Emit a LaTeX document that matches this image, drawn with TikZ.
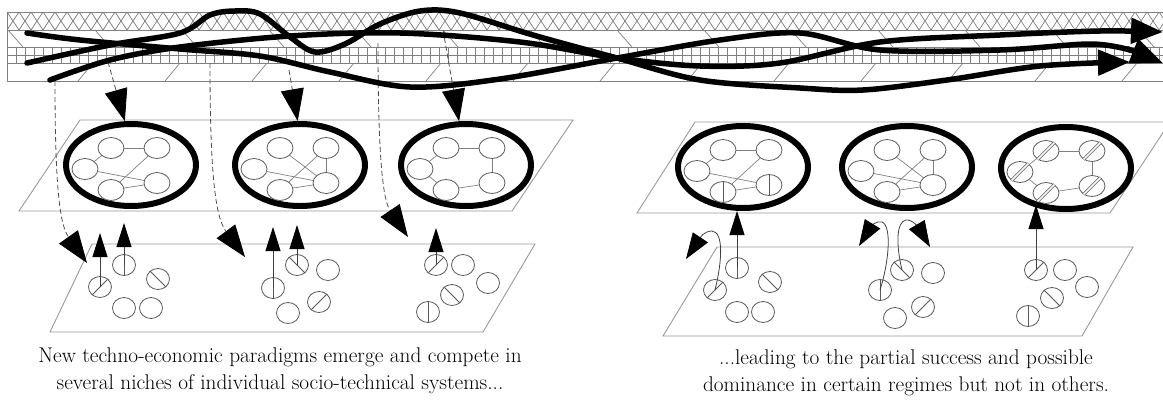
\documentclass[tikz,border=0pt]{standalone}
\usetikzlibrary{arrows.meta,shapes.geometric}
\begin{document}
\begin{tikzpicture}[x=1pt,y=-1pt,
  bandline/.style={draw=black!50, line width=0.7},
  plane/.style={draw=black!40, line width=0.9},
  traj/.style={line width=5.5, line cap=round, line join=round},
  trajtip/.style={-{Triangle[length=32pt,width=25pt]}},
  regime/.style={ellipse, draw, line width=6, minimum width=130pt, minimum height=82pt, inner sep=0pt},
  cell/.style={ellipse, draw=black!65, line width=0.8, fill=white, minimum width=26pt, minimum height=21pt, inner sep=0pt},
  seed/.style={ellipse, draw=black!65, line width=0.8, fill=white, minimum width=23pt, minimum height=21pt, inner sep=0pt},
  link/.style={draw=black!50, line width=0.7},
  scratch/.style={draw=black!65, line width=0.8},
  feed/.style={draw=black!70, line width=0.8, dash pattern=on 5pt off 3pt},
  bigtip/.style={-{Triangle[length=32pt,width=23pt,color=black]}},
  rise/.style={draw=black!75, line width=0.8, -{Triangle[length=24pt,width=15pt,color=black]}},
  hook/.style={draw=black!75, line width=0.8, -{Triangle[length=26pt,width=18pt,color=black]}},
  caption/.style={font=\fontsize{21.3}{27}\selectfont, align=center, inner sep=0pt}
]
\useasboundingbox (0,0) rectangle (1163,408);

% ---------- landscape band ----------
\begin{scope}
  \clip (7,12) rectangle (1163,30);
  \foreach \i in {-1,...,97} {
    \draw[bandline] ({7+12*\i},12) -- ({19+12*\i},30);
    \draw[bandline] ({19+12*\i},12) -- ({7+12*\i},30);
  }
\end{scope}
\foreach \i in {0,...,128} \draw[bandline] ({7+9*\i},47) -- ({7+9*\i},63);
\foreach \yy in {12,30,47,55,63,81} \draw[bandline] (7,\yy) -- (1163,\yy);
\draw[bandline] (7,12) -- (7,81);
\foreach \i in {0,...,13} \draw[bandline] ({8+87*\i},30) -- ({23+87*\i},47);
\foreach \i in {0,...,12} \draw[bandline] ({78+87*\i},81) -- ({93+87*\i},63);

% ---------- planes ----------
\draw[plane] (80,120) -- (573,120) -- (512,211) -- (19,211) -- cycle;
\draw[plane] (695,122) -- (1170,122) -- (1110,213) -- (637,213) -- cycle;
\draw[plane] (92,244) -- (535,244) -- (483,332) -- (50,332) -- cycle;
\draw[plane] (717,247) -- (1133,247) -- (1082,336) -- (663,336) -- cycle;

% ---------- regimes ----------
\newcommand\regimecluster[3]{%
  \node[regime] (#1) at (#2,#3) {};
  \node[cell] (#1tl) at ([shift={(-20,-17)}]#1.center) {};
  \node[cell] (#1tr) at ([shift={(26,-17)}]#1.center) {};
  \node[cell] (#1l)  at ([shift={(-46,4)}]#1.center) {};
  \node[cell] (#1bl) at ([shift={(-20,25)}]#1.center) {};
  \node[cell] (#1br) at ([shift={(26,18)}]#1.center) {};
}
\regimecluster{ea}{131}{165}
\regimecluster{eb}{300}{165}
\regimecluster{ec}{466}{165}
\regimecluster{ed}{743}{167}
\regimecluster{ee}{907}{167}
\regimecluster{ef}{1066}{168}

% network links inside the regimes
\foreach \e in {ea,ed} {
  \draw[link] (\e tl) -- (\e tr);
  \draw[link] (\e tl) -- (\e l);
  \draw[link] (\e tr) -- (\e bl);
  \draw[link] (\e l) -- (\e br);
  \draw[link] (\e bl) -- (\e br);
}
\foreach \e in {eb,ee} {
  \draw[link] (\e tl) -- (\e br);
  \draw[link] (\e tr) -- (\e bl);
  \draw[link] (\e l) -- (\e br);
  \draw[link] (\e tr) -- (\e br);
  \draw[link] (\e bl) -- (\e br);
}
\foreach \e in {ec,ef} {
  \draw[link] (\e tl) -- (\e tr);
  \draw[link] (\e tr) -- (\e br);
  \draw[link] (\e br) -- (\e bl);
  \draw[link] (\e bl) -- (\e l);
  \draw[link] (\e l) -- (\e tl);
}
% adopted innovations inside the regimes
\draw[scratch] (edbl.north) -- (edbl.south);
\draw[scratch] (edbr.north) -- (edbr.south);
\foreach \c in {eftl,eftr,efl,efbl,efbr}
  \draw[scratch, double=white, double distance=1.5pt] (\c.225) -- (\c.45);

% ---------- niches ----------
\newcommand\seedat[3]{\node[seed] (#1) at (#2,#3) {};}
\newcommand\vbar[1]{\draw[scratch] (#1.north) -- (#1.south);}
\newcommand\fbar[1]{\draw[scratch] (#1.225) -- (#1.45);}
\newcommand\bbar[1]{\draw[scratch] (#1.135) -- (#1.315);}

\seedat{na}{100}{287} \fbar{na}
\seedat{nb}{124}{265} \vbar{nb}
\seedat{nc}{158}{279} \bbar{nc}
\seedat{nd}{124}{308}
\seedat{ne}{151}{308}

\seedat{ma}{273}{288} \vbar{ma}
\seedat{mb}{297}{265} \bbar{mb}
\seedat{mc}{328}{270}
\seedat{md}{319}{302} \fbar{md}
\seedat{me}{288}{313}

\seedat{la}{436}{265} \fbar{la}
\seedat{lb}{463}{265}
\seedat{lc}{488}{283}
\seedat{ld}{452}{295} \bbar{ld}
\seedat{le}{428}{312} \vbar{le}

\seedat{ra}{715}{290} \fbar{ra}
\seedat{rb}{737}{268} \vbar{rb}
\seedat{rc}{770}{282} \bbar{rc}
\seedat{rd}{737}{312}
\seedat{re}{763}{312}

\seedat{sa}{880}{290} \vbar{sa}
\seedat{sb}{902}{270} \bbar{sb}
\seedat{sc}{933}{273}
\seedat{sd}{923}{307} \fbar{sd}
\seedat{se}{895}{318}

\seedat{ta}{1036}{270} \fbar{ta}
\seedat{tb}{1065}{270}
\seedat{tc}{1087}{287}
\seedat{td}{1052}{298} \bbar{td}
\seedat{te}{1028}{316} \vbar{te}

% ---------- niche innovations pushing up ----------
\coordinate (ua) at (100,233);
\coordinate (ub) at (124,223);
\coordinate (uc) at (273,227);
\coordinate (ud) at (297,225);
\coordinate (ue) at (436,228);
\coordinate (uf) at (1036,205);
\draw[rise] (na.center) -- (ua);
\draw[rise] (nb.center) -- (ub);
\draw[rise] (ma.center) -- (uc);
\draw[rise] (mb.center) -- (ud);
\draw[rise] (la.center) -- (ue);
\draw[rise] (rb.center) -- (rb.center |- ed.south);
\draw[rise] (ta.center) -- (uf);

% rejected innovations bending back
\coordinate (ha) at (686,259);
\coordinate (hb) at (859,246);
\coordinate (hc) at (930,247);
\draw[hook] (ra.center) .. controls (722,262) and (724,232) .. (712,231) .. controls (704,231) and (700,238) .. (ha);
\draw[hook] (sa.center) .. controls (889,262) and (892,226) .. (882,222) .. controls (876,220) and (870,228) .. (hb);
\draw[hook] (sb.center) .. controls (896,245) and (896,222) .. (906,220) .. controls (913,219) and (920,230) .. (hc);

% ---------- landscape pressure ----------
\coordinate (pa) at (108,62);
\coordinate (pb) at (289,70);
\coordinate (pc) at (443,30);
\draw[feed, bigtip] (pa) -- (ea.98);
\draw[feed, bigtip] (pb) -- (eb.93);
\draw[feed, bigtip] (pc) -- (ec.99);

\coordinate (qa) at (55,81);
\coordinate (qb) at (210,63);
\coordinate (qc) at (378,43);
\coordinate (qa') at (87,263);
\coordinate (qb') at (245,257);
\coordinate (qc') at (408,237);
\draw[feed, bigtip] (qa) .. controls (55,190) and (60,225) .. (qa');
\draw[feed, bigtip] (qb) .. controls (210,180) and (216,218) .. (qb');
\draw[feed, bigtip] (qc) .. controls (378,160) and (383,200) .. (qc');

% ---------- landscape trajectories ----------
\draw[traj] plot[smooth, tension=0.55] coordinates {(27,33) (80,40) (180,49) (260,56) (330,72) (410,87) (500,79) (617,58) (720,40) (800,33) (880,50) (1000,50) (1090,44) (1130,50)};
\draw[traj, trajtip] (1128,49) -- (1163,63);
\draw[traj, trajtip] plot[smooth, tension=0.55] coordinates {(27,63) (110,45) (180,33) (210,15) (235,11) (260,14) (290,37) (315,52) (345,44) (380,24) (420,11) (460,13) (533,35) (617,58) (700,80) (800,88) (863,90) (947,80) (1040,66) (1130,62)};
\draw[traj, trajtip] plot[smooth, tension=0.55] coordinates {(50,80) (110,60) (180,47) (290,36) (400,33) (520,42) (617,58) (700,66) (780,63) (880,42) (1000,35) (1100,31) (1163,32)};

% ---------- captions ----------
\node[caption] (capl) at (280,371) {New techno-economic paradigms emerge and compete in\\several niches of individual socio-technical systems...};
\node[caption] (capr) at (906,373) {...leading to the partial success and possible\\dominance in certain regimes but not in others.};
\end{tikzpicture}
\end{document}
